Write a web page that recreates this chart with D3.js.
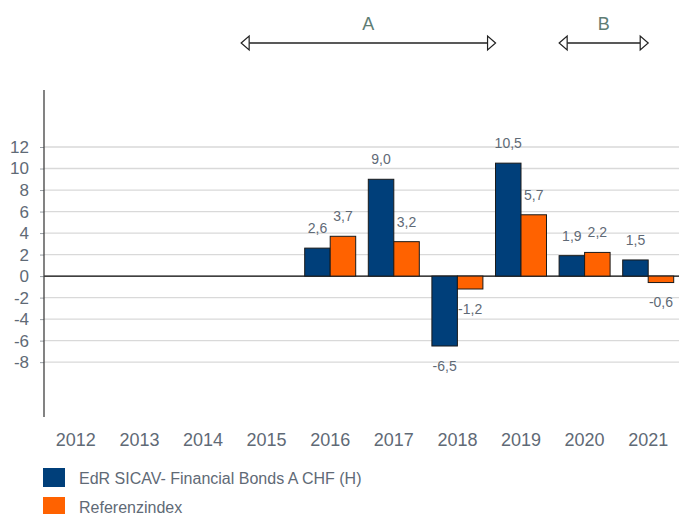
<!DOCTYPE html>
<html lang="de">
<head>
    <meta charset="UTF-8">
    <title>EdR SICAV - Financial Bonds</title>
    <style>
        body { margin: 0; background: #fff; }
        svg { display: block; font-family: "Liberation Sans", Arial, sans-serif; }
    </style>
</head>
<body>
    <div id="chart"></div>
    <script src="https://d3js.org/d3.v7.min.js"></script>
    <script>
        const years = ['2012', '2013', '2014', '2015', '2016', '2017', '2018', '2019', '2020', '2021'];
        const seriesNames = ['EdR SICAV- Financial Bonds A CHF (H)', 'Referenzindex'];
        const fundValues = [null, null, null, null, 2.6, 9.0, -6.5, 10.5, 1.9, 1.5];
        const indexValues = [null, null, null, null, 3.7, 3.2, -1.2, 5.7, 2.2, -0.6];
        const yTicks = [12, 10, 8, 6, 4, 2, 0, -2, -4, -6, -8];
        // periods A / B as positions along the category axis (index units)
        const periodLabels = ['A', 'B'];
        const periodFrom = [3.1, 8.1];
        const periodTo = [7.1, 9.5];

        const colors = ['#003f7a', '#ff6200'];
        const textColor = '#5f6a76';

        const width = 679, height = 514;
        const plotLeft = 44, plotRight = 680, plotTop = 90, plotBottom = 417;

        const svg = d3.select('#chart').append('svg')
            .attr('width', width)
            .attr('height', height);

        const x0 = d3.scaleBand().domain(years).range([plotLeft, plotRight]);
        const x1 = d3.scaleBand().domain([0, 1]).range([0, x0.bandwidth()]).paddingOuter(0.247);
        const y = d3.scaleLinear().domain([-13.1, 17.3]).range([plotBottom, plotTop]);
        const xi = d3.scaleLinear().domain([0, years.length]).range([plotLeft, plotRight]);

        // gridlines
        svg.append('g').selectAll('line').data(yTicks).enter().append('line')
            .attr('x1', plotLeft).attr('x2', width)
            .attr('y1', d => y(d)).attr('y2', d => y(d))
            .attr('stroke', d => d === 0 ? '#000' : '#d9d9d9')
            .attr('stroke-width', d => d === 0 ? 1.2 : 1.3);

        // y axis
        const yAxis = svg.append('g')
            .attr('transform', `translate(${plotLeft},0)`)
            .call(d3.axisLeft(y).tickValues(yTicks).tickSize(4).tickPadding(11));
        yAxis.select('.domain').remove();
        yAxis.selectAll('.tick line').attr('stroke', '#9aa0a6');
        yAxis.selectAll('.tick text').attr('fill', textColor).style('font-size', '17px')
            .style('font-family', '"Liberation Sans", Arial, sans-serif')
            .text(d => String(d));
        svg.append('line')
            .attr('x1', plotLeft).attr('x2', plotLeft)
            .attr('y1', plotTop).attr('y2', plotBottom)
            .attr('stroke', '#404040').attr('stroke-width', 1.3);

        // x labels
        svg.append('g').selectAll('text').data(years).enter().append('text')
            .attr('x', d => x0(d) + x0.bandwidth() / 2)
            .attr('y', 440)
            .attr('dy', '0.35em')
            .attr('text-anchor', 'middle')
            .attr('fill', textColor)
            .style('font-size', '18px')
            .text(d => d);

        // bars
        const rows = [];
        years.forEach((yr, i) => {
            [fundValues[i], indexValues[i]].forEach((v, s) => {
                if (v !== null) rows.push({ yr, s, v });
            });
        });

        svg.append('g').selectAll('rect').data(rows).enter().append('rect')
            .attr('x', d => x0(d.yr) + x1(d.s))
            .attr('width', x1.bandwidth())
            .attr('y', d => y(Math.max(0, d.v)))
            .attr('height', d => Math.abs(y(d.v) - y(0)))
            .attr('fill', d => colors[d.s])
            .attr('stroke', '#1a1a1a')
            .attr('stroke-width', 1);

        svg.append('g').selectAll('text').data(rows).enter().append('text')
            .attr('x', d => x0(d.yr) + x1(d.s) + x1.bandwidth() / 2)
            .attr('y', d => d.v >= 0 ? y(d.v) - 20 : y(d.v) + 20)
            .attr('dy', '0.35em')
            .attr('text-anchor', 'middle')
            .attr('fill', textColor)
            .style('font-size', '14px')
            .text(d => d.v.toFixed(1).replace('.', ','));

        // period arrows
        const arrowY = 43;
        const periods = periodLabels.map((p, i) => ({ p, a: xi(periodFrom[i]), b: xi(periodTo[i]) }));
        const pg = svg.append('g').selectAll('g').data(periods).enter().append('g');
        pg.append('line')
            .attr('x1', d => d.a + 8).attr('x2', d => d.b - 8)
            .attr('y1', arrowY).attr('y2', arrowY)
            .attr('stroke', '#222').attr('stroke-width', 1.3);
        pg.append('path')
            .attr('d', d => `M${d.a},${arrowY} L${d.a + 8},${arrowY - 7} L${d.a + 8},${arrowY + 7} Z`)
            .attr('fill', '#fff').attr('stroke', '#222').attr('stroke-width', 1.2);
        pg.append('path')
            .attr('d', d => `M${d.b},${arrowY} L${d.b - 8},${arrowY - 7} L${d.b - 8},${arrowY + 7} Z`)
            .attr('fill', '#fff').attr('stroke', '#222').attr('stroke-width', 1.2);
        pg.append('text')
            .attr('x', d => (d.a + d.b) / 2)
            .attr('y', 24)
            .attr('dy', '0.35em')
            .attr('text-anchor', 'middle')
            .attr('fill', '#5e7d74')
            .style('font-size', '18px')
            .text(d => d.p);

        // legend
        const lg = svg.append('g').selectAll('g').data(seriesNames).enter().append('g')
            .attr('transform', (d, i) => `translate(43,${468 + i * 29})`);
        lg.append('rect')
            .attr('width', 22).attr('height', 19)
            .attr('fill', (d, i) => colors[i]);
        lg.append('text')
            .attr('x', 36).attr('y', 10)
            .attr('dy', '0.35em')
            .attr('fill', textColor)
            .style('font-size', '16px')
            .text(d => d);
    </script>
</body>
</html>
